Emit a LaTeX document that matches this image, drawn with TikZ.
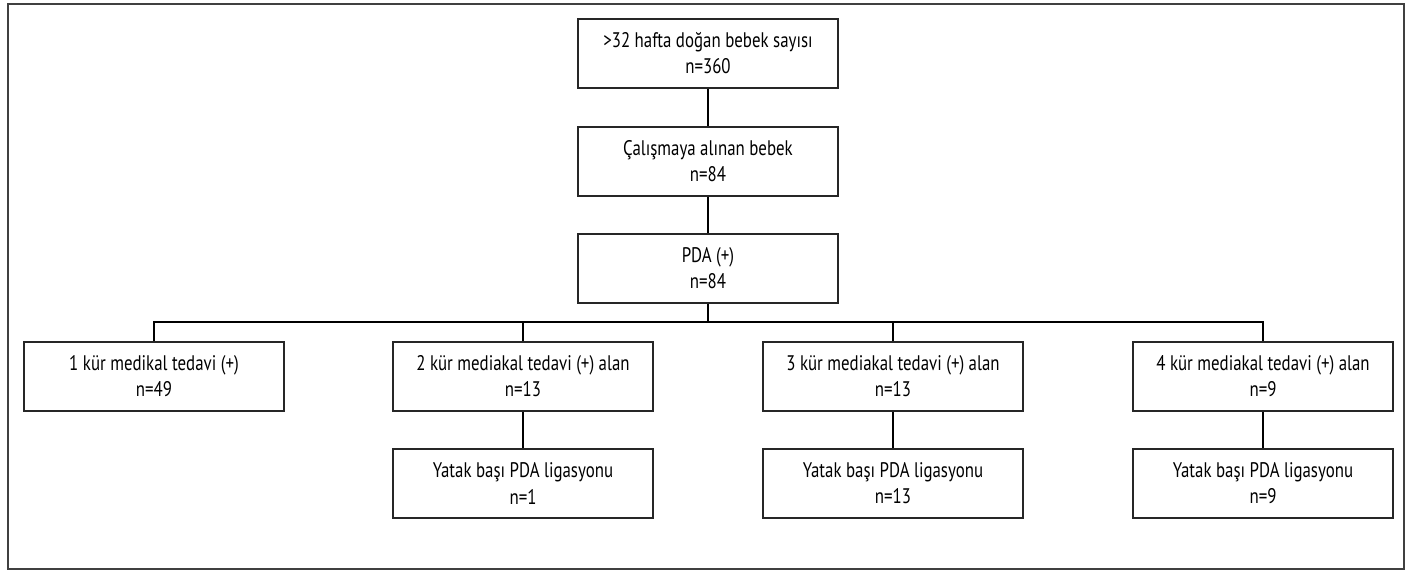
\documentclass[tikz,border=0pt]{standalone}
\usepackage{fontspec}
\setmainfont{PT Sans}[FakeStretch=0.8]
\begin{document}
\begin{tikzpicture}[font=\fontsize{12}{14.8}\selectfont,
	kutu/.style={draw=black!85,line width=0.8pt,minimum width=5.2cm,minimum height=1.38cm,align=center,inner sep=0pt},
	cizgi/.style={black,line width=0.6pt}]
		\useasboundingbox (0,0) rectangle (28.2,-11.46);
		\draw[black!75,line width=0.8pt] (0.16,-0.08) rectangle (28.08,-11.38);
		\node[kutu] (a) at (14.16,-1.07) {>32 hafta doğan bebek sayısı\\n=360};
		\node[kutu] (b) at (14.16,-3.23) {Çalışmaya alınan bebek\\n=84};
		\node[kutu] (c) at (14.16,-5.37) {PDA (+)\\n=84};
		%kür sayısı
		\node[kutu] (k1) at (3.08,-7.53) {1 kür medikal tedavi (+)\\n=49};
		\node[kutu] (k2) at (10.46,-7.53) {2 kür mediakal tedavi (+) alan\\n=13};
		\node[kutu] (k3) at (17.86,-7.53) {3 kür mediakal tedavi (+) alan\\n=13};
		\node[kutu] (k4) at (25.26,-7.53) {4 kür mediakal tedavi (+) alan\\n=9};
		\foreach \i/\n in {2/1,3/13,4/9}
		\node[kutu] (y\i) at ([yshift=-2.14cm]k\i) {Yatak başı PDA ligasyonu\\n=\n};
		\coordinate (bus) at (0,-6.44);
		\draw[cizgi] (a)--(b) (b)--(c) (c)--(c|-bus);
		\draw[cizgi] (k1.north) |- (k4.north|-bus) -- (k4.north);
		\foreach \i in {2,3}
		\draw[cizgi] (k\i.north)--(k\i.north|-bus);
		\foreach \i in {2,3,4}
		\draw[cizgi] (k\i)--(y\i);
\end{tikzpicture}
\end{document}
